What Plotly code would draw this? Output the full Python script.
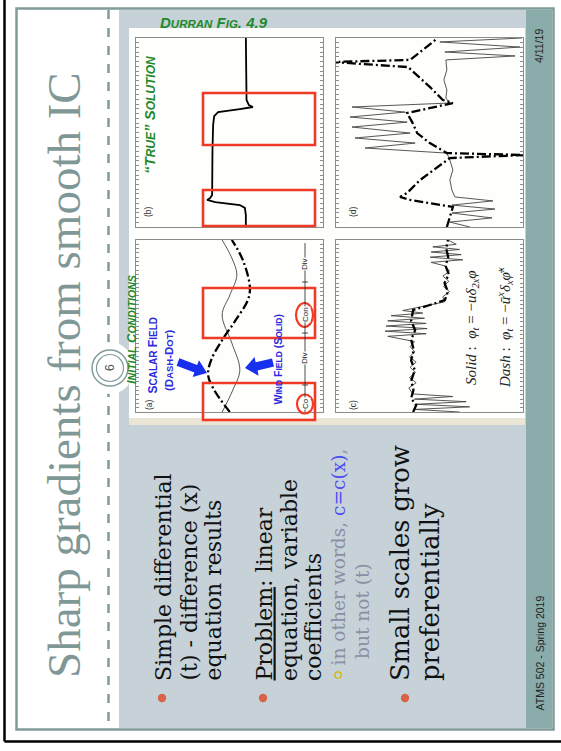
import plotly.graph_objects as go

W, H = 561, 751
def X(px): return px / W
def Y(py): return 1 - py / H

# ---------------- data ----------------
# panel (b): "true" solution ; position along original x-axis (0..100), value
pos_b = [0, 6.3, 10.1, 11.6, 13.2, 14.3, 15.3, 16.9, 40.7, 54.0, 58.7, 60.8, 62.4, 63.5, 64.5, 67.2, 100]
val_b = [-0.49, -0.49, -0.46, -0.31, 0.43, 0.67, 0.58, 0.52, 0.51, 0.49, 0.46, 0.34, -0.31, -0.70, -0.58, -0.51, -0.49]

# panel (a): initial conditions
pos_a_phi = [0, 12.8, 21.5, 30.2, 41.8, 53.5, 65.1, 72.6, 88.3, 100]
phi_a = [-0.01, 0.46, 0.64, 0.55, 0.22, -0.19, -0.55, -0.61, -0.40, -0.07]
pos_a_u = [0, 12.8, 24.4, 40.1, 56.4, 68.0, 79.6, 89.5, 100]
u_a = [0.22, -0.10, -0.31, -0.07, 0.22, -0.01, -0.22, -0.07, 0.22]

# panel (c): centred 2nd-order (solid) and averaged (dash)
pos_c_dash = [0, 4, 8, 12.8, 18, 24.4, 30, 36, 42, 47.6, 53, 59.3, 62.2, 65.1, 70, 75, 80, 85, 90, 95, 100]
phi_c_dash = [0.49, 0.40, 0.55, 0.48, 0.55, 0.44, 0.55, 0.47, 0.55, 0.43, 0.55, 0.49, -0.01, -0.46,
              -0.55, -0.45, -0.58, -0.48, -0.56, -0.50, -0.55]
pos_c_solid = [0, 1.5, 3, 4.5, 6, 7.5, 9, 10.5, 14, 17, 20, 23, 26, 29, 32, 35, 38, 41,
               44, 45.5, 47, 48.5, 50, 51.5, 53, 54.5, 56, 57.5, 59, 60.5, 62, 64,
               67, 70, 73, 76, 79, 82, 85, 87, 88.5, 90, 91.5, 93, 94.5, 96, 97.5, 100]
phi_c_solid = [-0.90, 0.45, -1.20, 0.40, -1.10, 0.45, -0.70, 0.50, 0.62, 0.40, 0.60, 0.42, 0.58,
               0.40, 0.60, 0.44, 0.58, 0.45,
               1.25, 0.10, 1.33, 0.07, 1.30, 0.10, 1.25, 0.15, 1.15, 0.20, 0.80, 0.40, 0.00, -0.45,
               -0.40, -0.60, -0.42, -0.58, -0.40, -0.60, -0.45, -0.05, -1.00, -0.02, -0.95, -0.05,
               -0.90, -0.10, -0.80, -0.55]

# panel (d): later time
pos_d_dash = [0, 10.6, 14.3, 15.9, 18.0, 24.9, 36.5, 38.1, 39.1, 44.4, 49.7, 55.5, 60.3, 65.6, 67.2,
              74.1, 84.6, 87.3, 88.4, 100]
phi_d_dash = [-0.52, -0.70, 0.58, 0.88, 0.67, 0.28, -0.61, -2.9, -0.52, -0.01, 0.37, 0.52, 0.67,
              -0.70, -0.40, -0.01, 0.64, 2.9, 0.58, -0.25]
pos_d_solid = [0, 2.6, 4.8, 7.4, 9.5, 11.6, 13.8, 15.9, 19.6, 24.9, 30.2, 35.4, 39.1, 41.8, 44.4,
               47.1, 49.7, 52.9, 55.5, 58.2, 60.8, 63.5, 65.6, 68.2, 72.5, 77.8, 83.1, 88.4, 90.5,
               92.6, 95.2, 97.9, 100]
phi_d_solid = [-1.21, -0.61, -1.87, -0.67, -1.96, -0.67, -1.90, -0.76, -0.67, -0.61, -0.70, -0.61,
               -0.52, 1.93, 0.43, 2.23, 0.58, 2.32, 0.67, 2.38, 0.73, 2.32, -0.61, -0.49, -0.52,
               -0.43, -0.52, -0.49, -2.56, -0.46, -2.71, -0.31, -2.77]

bullets_1 = ["Simple differential", "(t) - difference (x)", "equation results"]
bullets_2 = ["<span style='text-decoration:underline'>Problem</span>: linear",
             "equation, variable", "coefficients"]
sub_bullet = ["in other words, <span style='color:#4d4df2'>c=c(x)</span>,", "but not (t)"]
bullets_3 = ["Small scales grow", "preferentially"]

# ---------------- layout geometry ----------------
panels = {  # axis index: (x0, x1, y0, y1) in pixels
    1: (136, 323, 240, 412),  # (a)
    2: (136, 323, 38, 227),   # (b)
    3: (336, 523, 240, 412),  # (c)
    4: (336, 523, 38, 227),   # (d)
}

fig = go.Figure()

DASH = "9px,3px,2px,3px"
def add(ax, xs, ys, solid=False, spline=False, width=None, color=None):
    sfx = "" if ax == 1 else str(ax)
    fig.add_trace(go.Scatter(
        x=ys, y=xs, xaxis="x" + sfx, yaxis="y" + sfx, mode="lines",
        line=dict(color=color or ("#444" if solid else "black"), width=width or (0.9 if solid else 2.3),
                  dash="solid" if solid else DASH, shape="spline" if spline else "linear"),
        showlegend=False, hoverinfo="skip"))

add(1, pos_a_u, u_a, solid=True, spline=True)
add(1, pos_a_phi, phi_a, spline=True)
add(2, pos_b, val_b, solid=True, width=1.8, color="black")
add(3, pos_c_solid, phi_c_solid, solid=True)
add(3, pos_c_dash, phi_c_dash)
add(4, pos_d_solid, phi_d_solid, solid=True)
add(4, pos_d_dash, phi_d_dash)

lay = {}
for i, (x0, x1, y0, y1) in panels.items():
    sfx = "" if i == 1 else str(i)
    lay["xaxis" + sfx] = dict(domain=[X(x0), X(x1)], range=[2.8, -2.8], anchor="y" + sfx,
                             showline=True, mirror=True, linecolor="#8c8c8c", linewidth=1,
                             showgrid=False, zeroline=False, showticklabels=False, ticks="")
    lay["yaxis" + sfx] = dict(domain=[Y(y1), Y(y0)], range=[0, 100], anchor="x" + sfx,
                             showline=True, mirror="ticks", linecolor="#8c8c8c", linewidth=1,
                             showgrid=False, zeroline=False, showticklabels=False,
                             ticks="inside", ticklen=3, tickcolor="#8c8c8c", dtick=2.5)

shapes = []
def rect(x0, y0, x1, y1, fill=None, line=None, lw=0, layer="below", dash=None):
    shapes.append(dict(type="rect", xref="paper", yref="paper", x0=X(x0), x1=X(x1), y0=Y(y1), y1=Y(y0),
                       fillcolor=fill or "rgba(0,0,0,0)", layer=layer,
                       line=dict(color=line or "rgba(0,0,0,0)", width=lw, dash=dash)))
def line(x0, y0, x1, y1, color, lw, dash=None, layer="below"):
    shapes.append(dict(type="line", xref="paper", yref="paper", x0=X(x0), x1=X(x1), y0=Y(y0), y1=Y(y1),
                       layer=layer, line=dict(color=color, width=lw, dash=dash)))
def circle(cx, cy, rx, ry, fill=None, color=None, lw=0, layer="below"):
    shapes.append(dict(type="circle", xref="paper", yref="paper", x0=X(cx - rx), x1=X(cx + rx),
                       y0=Y(cy + ry), y1=Y(cy - ry), layer=layer, fillcolor=fill or "rgba(0,0,0,0)",
                       line=dict(color=color or "rgba(0,0,0,0)", width=lw)))
def poly(pts, fill, layer="above"):
    d = "M " + " L ".join(f"{X(a):.5f},{Y(b):.5f}" for a, b in pts) + " Z"
    shapes.append(dict(type="path", xref="paper", yref="paper", path=d, fillcolor=fill,
                       line=dict(width=0), layer=layer))

TEAL = "#7f9c9b"
# black outer rules
line(4.5, 0, 4.5, 741.5, "black", 2.5)
line(4.5, 741.5, 561, 741.5, "black", 2.5)
# slide
rect(16.5, 8.5, 553.5, 729.5, fill="white", line=TEAL, lw=2.5)
rect(119, 10, 526, 728, fill="#c7d2d8")
rect(526, 10, 552, 728, fill="#8aacab")
line(108.5, 10, 108.5, 728, TEAL, 2.5, dash="dash")
circle(110, 368, 24, 26, fill="white")
circle(110, 368, 18, 18, fill="white", color=TEAL, lw=1.5)
circle(110, 368, 13.5, 13.5, color=TEAL, lw=1.2)
# figure image
rect(129, 28, 525, 425, fill="#fefefc")
rect(129, 418, 525, 425, fill="#ebe5d6")
# red highlight boxes
for (a, b, c, d) in [(203, 93, 315, 145), (203, 190, 315, 226), (203, 288, 315, 338), (203, 383, 315, 420)]:
    rect(a, b, c, d, line="#f03a26", lw=2.6, layer="above")
circle(304.5, 315, 8.5, 12, color="#f03a26", lw=2.2, layer="above")
circle(305, 404, 8, 9.5, color="#f03a26", lw=2.2, layer="above")
# bullets
for cx in (162, 263, 405):
    circle(cx, 698, 4.2, 4.2, fill="#d9634a", layer="above")
circle(338, 675, 3.2, 3.2, color="#d4b400", lw=1.3, layer="above")
# Div/Con scale
line(305, 243, 305, 412, "#222", 0.8, layer="above")
for yy in (282, 333, 385):
    line(302, yy, 308, yy, "#222", 0.8, layer="above")
# blue arrows
poly([(179.4, 358.3), (197.2, 365.0), (199.0, 360.3), (207, 373), (192.6, 377.1), (194.4, 372.4), (176.6, 365.7)], "#1730f0")
poly([(272.0, 358.4), (255.6, 362.3), (254.6, 357.1), (245, 368), (258.6, 375.8), (257.6, 370.6), (274.0, 366.6)], "#1730f0")

ann = []
def text(x, y, s, size, color="black", family="DejaVu Serif", xa="center", ya="middle", angle=-90, bg=None):
    ann.append(dict(x=X(x), y=Y(y), xref="paper", yref="paper", text=s, showarrow=False,
                    textangle=angle, xanchor=xa, yanchor=ya, align="left",
                    font=dict(size=size, color=color, family=family),
                    bgcolor=bg, borderpad=0))

text(64, 375, "Sharp gradients from smooth IC", 47, color="#7f9896", family="Liberation Serif")
text(110, 368, "6", 12, color="#555", family="Liberation Sans")
for cx, s in zip((163, 189, 213), bullets_1):
    text(cx, 682, s, 22, color="#111", ya="bottom")
for cx, s in zip((264, 289, 313), bullets_2):
    text(cx, 682, s, 22, color="#111", ya="bottom")
for cx, yb, s in zip((338, 362), (667, 660), sub_bullet):
    text(cx, yb, s, 18.6, color="#8a8fa4", ya="bottom")
for cx, s in zip((400, 430), bullets_3):
    text(cx, 682, s, 25.7, color="#111", ya="bottom")
text(539, 712, "ATMS 502 - Spring 2019", 10.5, color="#222", family="Liberation Sans", ya="bottom")
text(539, 28, "4/11/19", 10.5, color="#222", family="Liberation Sans", ya="top")

GREEN = "#1e8a2a"
text(214, 22, "<b><i>D<span style='font-size:11.5px'>URRAN</span> F<span style='font-size:11.5px'>IG</span>. 4.9</i></b>",
     15, color=GREEN, family="Liberation Sans", angle=0)
text(131, 330, "<b><i>I<span style='font-size:10.5px'>NITIAL</span> C<span style='font-size:10.5px'>ONDITIONS</span></i></b>",
     13, color=GREEN, family="Liberation Sans")
text(150, 115, "<b><i>“T<span style='font-size:12px'>RUE</span>” S<span style='font-size:12px'>OLUTION</span></i></b>",
     15, color=GREEN, family="Liberation Sans")
BLUE = "#2b2bdc"
text(152.5, 395, "<b>S<span style='font-size:10px'>CALAR</span> F<span style='font-size:10px'>IELD</span></b>",
     12, color=BLUE, family="Liberation Sans", ya="bottom")
text(169, 392, "<b>(D<span style='font-size:9.5px'>ASH</span>-D<span style='font-size:9.5px'>OT</span>)</b>",
     11.5, color=BLUE, family="Liberation Sans", ya="bottom")
text(277, 406, "<b>W<span style='font-size:8.5px'>IND</span> F<span style='font-size:8.5px'>IELD</span> (S<span style='font-size:8.5px'>OLID</span>)</b>",
     10.5, color=BLUE, family="Liberation Sans", ya="bottom")
for (x, y, s) in [(149, 405, "(a)"), (148, 212, "(b)"), (353, 405, "(c)"), (353, 212, "(d)")]:
    text(x, y, s, 8.5, color="#333", family="Liberation Sans")
for (y, s) in [(264, "Div"), (315, "Con"), (358, "Div"), (404, "Co")]:
    text(305, y, s, 8, color="#222", family="Liberation Sans", bg="#fefefc")
text(472, 328, "<i>Solid</i> :  <i>φ<sub>t</sub></i> = −<i>uδ<sub>2x</sub>φ</i>", 15, color="#222", family="Liberation Serif")
text(505, 328, "<i>Dash</i> :  <i>φ<sub>t</sub></i> = −<i>ū<sup>x</sup>δ<sub>x</sub>φ̄<sup>x</sup></i>", 15, color="#222", family="Liberation Serif")

fig.update_layout(width=W, height=H, margin=dict(l=0, r=0, t=0, b=0),
                  paper_bgcolor="white", plot_bgcolor="rgba(0,0,0,0)",
                  shapes=shapes, annotations=ann, **lay)
fig.write_html("out.html", config={"displayModeBar": False},
               post_script="document.body.style.margin='0';document.body.style.overflow='hidden';")
